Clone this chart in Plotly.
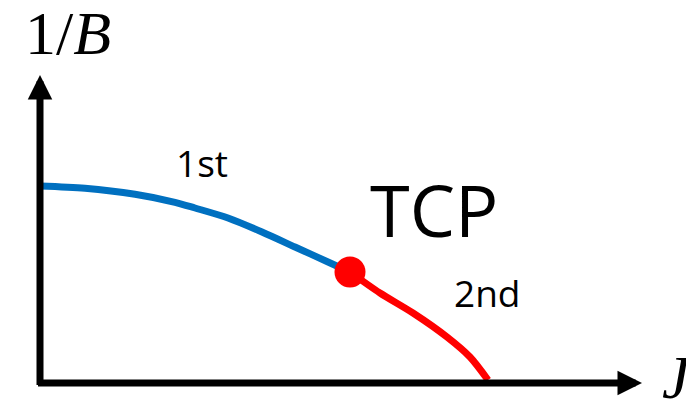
import plotly.graph_objects as go

# curva de 1a ordem (azul) ate o TCP
j_first = [0.0, 0.45, 0.95, 1.35, 1.55, 1.88, 2.22, 2.55, 2.88, 3.1]
b_first = [1.97, 1.947, 1.887, 1.807, 1.75, 1.65, 1.51, 1.36, 1.21, 1.11]

# curva de 2a ordem (vermelha) depois do TCP
j_second = [3.1, 3.4, 3.73, 4.07, 4.3, 4.48]
b_second = [1.11, 0.90, 0.70, 0.46, 0.26, 0.03]

# ponto tricritico
j_tcp = [3.1]
b_tcp = [1.11]

# eixos (origem e pontas das setas)
axis_origin = (0.0, 0.0)
x_tip = 6.02
y_tip = 3.08

labels = ['1st', 'TCP', '2nd']
label_j = [1.62, 3.94, 4.47]
label_b = [2.21, 1.74, 0.91]
label_size = [37, 72, 37]

fig = go.Figure()

fig.add_trace(go.Scatter(
    x=j_first, y=b_first, mode='lines',
    line=dict(color='#0070C0', width=7, shape='spline', smoothing=0.8),
    hoverinfo='skip'
))
fig.add_trace(go.Scatter(
    x=j_second, y=b_second, mode='lines',
    line=dict(color='#FF0000', width=7, shape='spline', smoothing=0.8),
    hoverinfo='skip'
))
fig.add_trace(go.Scatter(
    x=j_tcp, y=b_tcp, mode='markers',
    marker=dict(color='#FF0000', size=31, line=dict(width=0)),
    hoverinfo='skip'
))

# setas dos eixos
arrow = dict(text='', showarrow=True, arrowhead=2, arrowsize=0.7,
             arrowwidth=7, arrowcolor='black', xref='x', yref='y',
             axref='x', ayref='y', standoff=0)
fig.add_annotation(x=x_tip, y=axis_origin[1], ax=axis_origin[0] - 0.035,
                   ay=axis_origin[1], **arrow)
fig.add_annotation(x=axis_origin[0], y=y_tip, ax=axis_origin[0],
                   ay=axis_origin[1] - 0.035, **arrow)

for txt, xj, yb, sz in zip(labels, label_j, label_b, label_size):
    fig.add_annotation(x=xj, y=yb, text=txt, showarrow=False,
                       font=dict(family='Open Sans', size=sz, color='black'))

# rotulos dos eixos
fig.add_annotation(x=0.28, y=3.5, text='1/<i>B</i>', showarrow=False,
                   font=dict(family='Liberation Serif', size=62, color='black'))
fig.add_annotation(x=6.37, y=0.06, text='<i>J</i>', showarrow=False,
                   font=dict(family='Liberation Serif', size=62, color='black'))

# a pagina tem margem de 8px no body, por isso o deslocamento das faixas
fig.update_xaxes(range=[-0.32, 6.62], visible=False)
fig.update_yaxes(range=[-0.29, 3.75], visible=False)
fig.update_layout(
    width=694, height=404,
    margin=dict(l=0, r=0, t=0, b=0),
    plot_bgcolor='white', paper_bgcolor='white',
    showlegend=False
)

fig.write_html('out.html')
